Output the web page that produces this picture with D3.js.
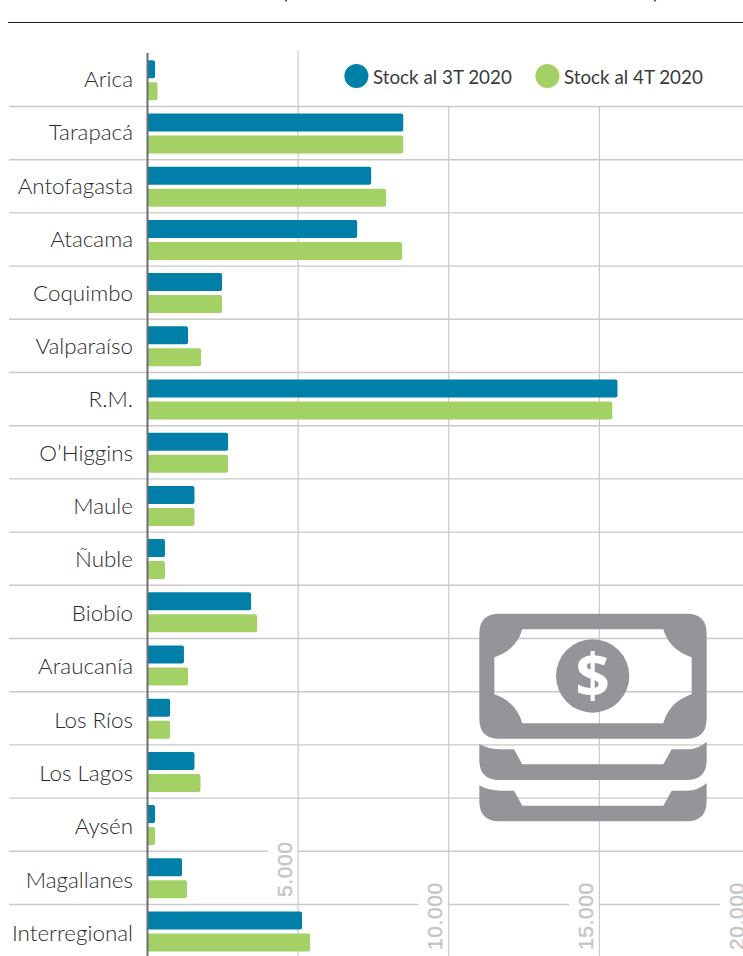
<!DOCTYPE html>
<html>
<head>
<meta charset="utf-8">
<script src="https://cdn.jsdelivr.net/npm/d3@7"></script>
<style>
  html, body { margin: 0; padding: 0; background: #fff; overflow: hidden; }
  svg { display: block; }
  text { font-family: Lato, "Open Sans", sans-serif; }
</style>
</head>
<body>
<svg id="chart" width="743" height="956"></svg>
<script>
const regions = ["Arica", "Tarapacá", "Antofagasta", "Atacama", "Coquimbo", "Valparaíso", "R.M.", "O’Higgins",
  "Maule", "Ñuble", "Biobío", "Araucanía", "Los Ríos", "Los Lagos", "Aysén", "Magallanes", "Interregional"];
const stock3T = [250, 8490, 7425, 6960, 2475, 1345, 15600, 2675, 1560, 580, 3440, 1210, 750, 1560, 250, 1145, 5130];
const stock4T = [330, 8490, 7920, 8455, 2475, 1780, 15430, 2675, 1560, 580, 3640, 1345, 750, 1760, 250, 1310, 5400];
const seriesNames = ["Stock al 3T 2020", "Stock al 4T 2020"];
const seriesColors = ["#0080a8", "#a4d165"];
const ticks = [5000, 10000, 15000, 20000];

const svg = d3.select("#chart");
const grid = "#c9c9c9";

const xScale = d3.scaleLinear().domain([0, 20000]).range([147.5, 750]);
const yScale = d3.scaleBand().domain(regions).range([53.3, 53.3 + 17 * 53.2]);
const barScale = d3.scaleBand().domain([0, 1]).range([7, 47]).paddingInner(0.18);
// the labels run on a slightly longer step than the bars
const labelScale = d3.scalePoint().domain(regions).range([80, 934]);
const tickFormat = d3.formatLocale({ decimal: ",", thousands: ".", grouping: [3], currency: ["$", ""] }).format(",d");

// rule under the cut off heading
svg.append("line").attr("x1", 8).attr("x2", 743).attr("y1", 22.5).attr("y2", 22.5)
  .attr("stroke", "#231f20").attr("stroke-width", 1);
svg.selectAll(".paren")
  .data([["(", 285], [")", 656]])
  .join("text")
  .attr("class", "paren")
  .attr("x", d => d[1])
  .attr("y", -1)
  .attr("text-anchor", "middle")
  .attr("font-size", 20)
  .attr("fill", "#333")
  .text(d => d[0]);

// horizontal row lines
svg.selectAll(".row-line")
  .data(regions.slice(1))
  .join("line")
  .attr("class", "row-line")
  .attr("x1", 9).attr("x2", 743)
  .attr("y1", d => yScale(d)).attr("y2", d => yScale(d))
  .attr("stroke", grid).attr("stroke-width", 1.4);

// vertical grid, the first one reaches the top row
svg.selectAll(".grid-line")
  .data(ticks)
  .join("line")
  .attr("class", "grid-line")
  .attr("x1", d => xScale(d)).attr("x2", d => xScale(d))
  .attr("y1", d => d === 5000 ? 51 : yScale(regions[1]))
  .attr("y2", 956)
  .attr("stroke", grid).attr("stroke-width", 1.2);

// tick labels sit on a white patch that breaks the row lines
const tickBottom = d => d === 5000 ? 897 : 950;
const tickG = svg.selectAll(".tick-label")
  .data(ticks)
  .join("g")
  .attr("class", "tick-label");
tickG.append("rect")
  .attr("x", d => xScale(d) - 30)
  .attr("y", d => tickBottom(d) - 68)
  .attr("width", 29)
  .attr("height", 68)
  .attr("fill", "#fff");
tickG.append("text")
  .attr("transform", d => `translate(${xScale(d) - 6.5},${tickBottom(d)}) rotate(-90)`)
  .attr("font-size", 21)
  .attr("letter-spacing", 0.6)
  .attr("fill", "#c4c5c6")
  .attr("stroke", "#c4c5c6")
  .attr("stroke-width", 0.4)
  .style("font-family", "'Liberation Sans', sans-serif")
  .text(d => tickFormat(d));

// money icon, transparent inside so the grid shows through
const icon = svg.append("g").attr("transform", "translate(460,600) scale(0.3333)").attr("fill", "#939598");
icon.append("path")
  .attr("fill-rule", "evenodd")
  .attr("d", "M118,41H680Q740,41 740,101V356Q740,416 680,416H118Q58,416 58,356V101Q58,41 118,41Z" +
    "M187,88H610Q628,150 695,172V283Q628,305 610,370H187Q169,305 103,283V172Q169,150 187,88Z");
[0, 124].forEach(dy => {
  icon.append("path")
    .attr("transform", `translate(0,${dy})`)
    .attr("d", "M58,432Q85,448 125,448H162L187,493H610L635,448H680Q715,448 740,425V480Q740,540 680,540H118Q58,540 58,480Z");
});
icon.append("circle").attr("cx", 398).attr("cy", 228).attr("r", 110);
svg.append("text")
  .attr("x", 592.7).attr("y", 697)
  .attr("text-anchor", "middle")
  .attr("font-size", 60)
  .attr("font-weight", 700)
  .attr("fill", "#fff")
  .style("font-family", "'Open Sans', sans-serif")
  .text("$");

// bars
const rows = svg.selectAll(".row")
  .data(regions)
  .join("g")
  .attr("class", "row")
  .attr("transform", d => `translate(0,${yScale(d)})`);

rows.selectAll("path")
  .data((d, i) => [stock3T[i], stock4T[i]])
  .join("path")
  .attr("fill", (d, i) => seriesColors[i])
  .attr("d", (d, i) => {
    const x0 = xScale(0), x1 = xScale(d), y0 = barScale(i), h = barScale.bandwidth(), r = 2;
    return `M${x0},${y0}H${x1 - r}Q${x1},${y0} ${x1},${y0 + r}V${y0 + h - r}Q${x1},${y0 + h} ${x1 - r},${y0 + h}H${x0}Z`;
  });

svg.selectAll(".region-label")
  .data(regions)
  .join("text")
  .attr("class", "region-label")
  .attr("x", 133)
  .attr("y", d => labelScale(d) + 7)
  .attr("text-anchor", "end")
  .attr("font-size", 22.4)
  .attr("font-weight", 300)
  .attr("fill", "#2b2b2b")
  .text(d => d);

// axis line
svg.append("line")
  .attr("x1", xScale(0)).attr("x2", xScale(0))
  .attr("y1", 53).attr("y2", 956)
  .attr("stroke", "#6d6e71").attr("stroke-width", 2);

// legend
const legendX = [356.4, 547.4];
const legend = svg.selectAll(".legend")
  .data(seriesNames)
  .join("g")
  .attr("class", "legend")
  .attr("transform", (d, i) => `translate(${legendX[i]},76)`);
legend.append("circle").attr("r", 12).attr("fill", (d, i) => seriesColors[i]);
legend.append("text")
  .attr("x", 16.6).attr("y", 8)
  .attr("font-size", 18.8)
  .attr("fill", "#3a3a3c")
  .text(d => d);
</script>
</body>
</html>
